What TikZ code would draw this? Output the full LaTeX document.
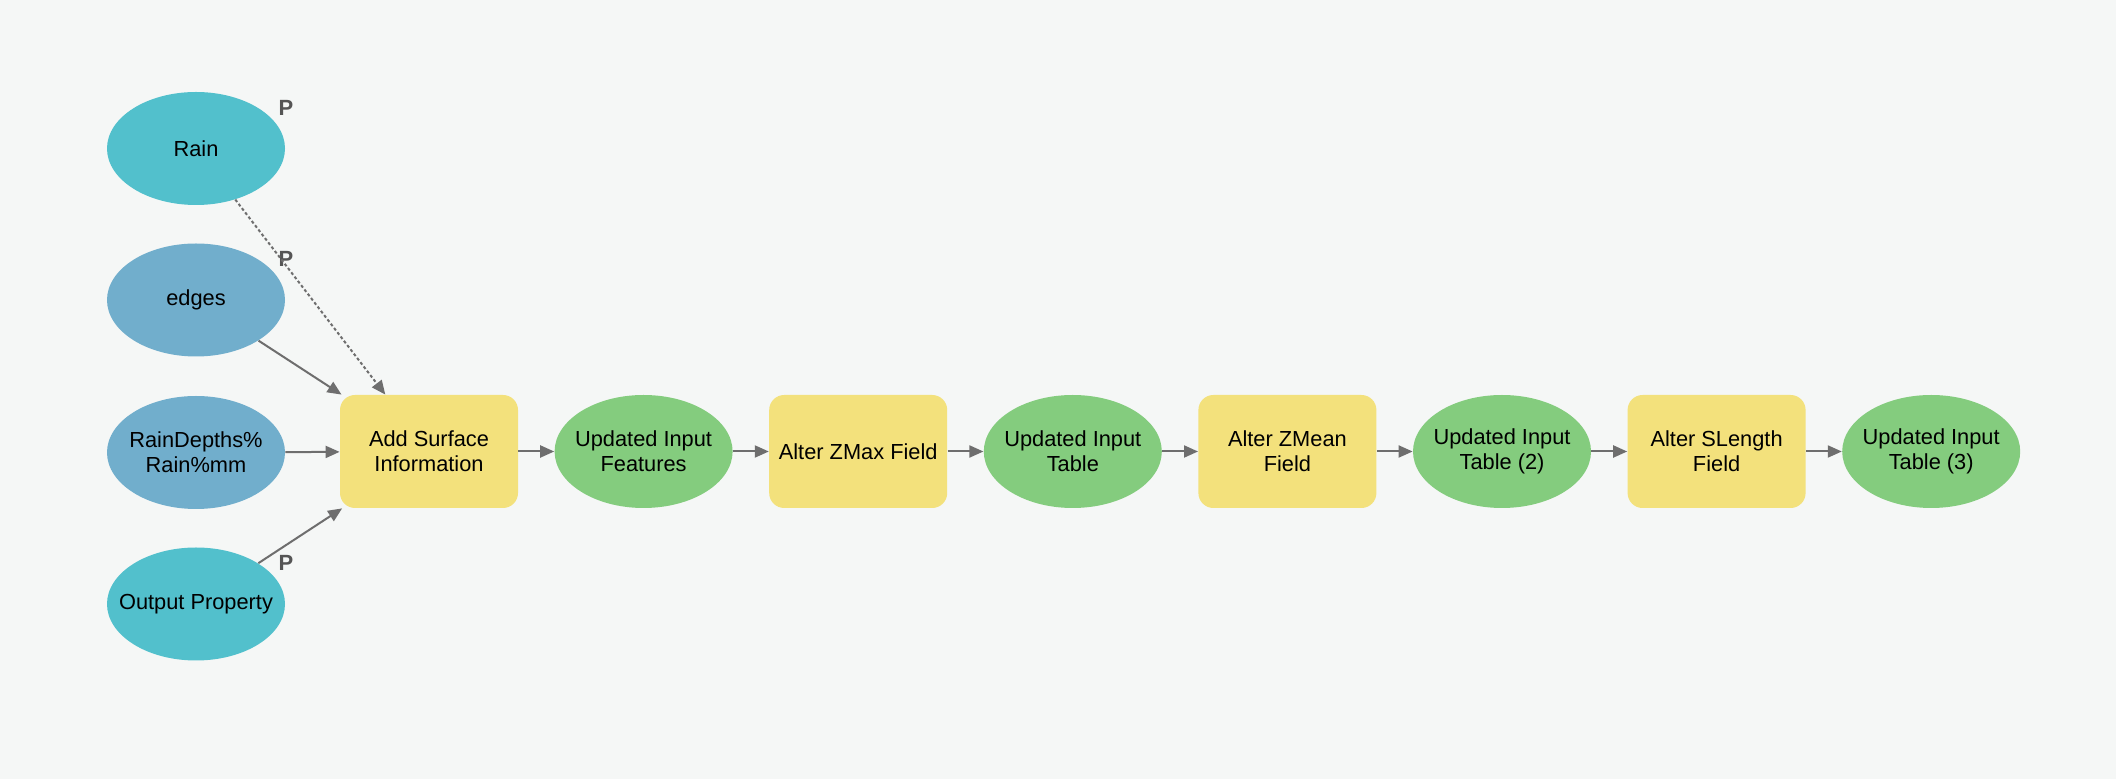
\documentclass[tikz,border=0pt]{standalone}
\usepackage{fontspec}
\setmainfont{Liberation Sans}
\usetikzlibrary{arrows.meta,shapes.geometric}

\definecolor{bgcol}{HTML}{F5F7F6}
\definecolor{paramcol}{HTML}{52C0CC}
\definecolor{datacol}{HTML}{71AECC}
\definecolor{outcol}{HTML}{84CC7E}
\definecolor{toolcol}{HTML}{F3E17C}
\definecolor{linkcol}{HTML}{6E6E6E}
\definecolor{pcol}{HTML}{555555}

\begin{document}
\begin{tikzpicture}[x=0.5pt,y=-0.5pt,
  every node/.style={font=\fontsize{10.9}{12.5}\selectfont, align=center, inner sep=0pt, text=black},
  var/.style={ellipse, inner xsep=-14pt, minimum width=89pt, minimum height=56.5pt},
  tool/.style={rectangle, rounded corners=7.5pt, fill=toolcol, minimum width=89pt, minimum height=56.5pt},
  plabel/.style={font=\fontsize{11}{13}\bfseries\selectfont, text=pcol, xshift=45pt, yshift=20.5pt},
  link/.style={draw=linkcol, line width=1pt, -{Triangle[length=7pt,width=6pt]}}]
  \fill[bgcol] (0,0) rectangle (2116,779);
  \useasboundingbox (0,0) rectangle (2116,779);

  % model inputs
  \node[var, fill=paramcol, label={[plabel]center:P}] (rain) at (196,148.5) {Rain};
  \node[var, fill=datacol, label={[plabel]center:P}] (edges) at (196,300) {edges};
  \node[var, fill=datacol] (depths) at (196,452.5) {RainDepths\%\\Rain\%mm};
  \node[var, fill=paramcol, label={[plabel]center:P}] (outprop) at (196,604) {Output Property};

  % processing chain
  \node[tool] (addsurf) at (429,451.5) {Add Surface\\Information};
  \node[var, fill=outcol] (feat) at (643.6,451.5) {Updated Input\\Features};
  \node[tool] (zmax) at (858.2,451.5) {Alter ZMax Field};
  \node[var, fill=outcol] (tab) at (1072.8,451.5) {Updated Input\\Table};
  \node[tool] (zmean) at (1287.4,451.5) {Alter ZMean\\Field};
  \node[var, fill=outcol] (tab2) at (1502,451.5) {Updated Input\\Table (2)\vphantom{p}};
  \node[tool] (slength) at (1716.6,451.5) {Alter SLength\\Field};
  \node[var, fill=outcol] (tab3) at (1931.2,451.5) {Updated Input\\Table (3)\vphantom{p}};

  \draw[link, dash pattern=on 1.5pt off 1.2pt] (rain) -- (addsurf);
  \draw[link] (edges) -- (addsurf);
  \draw[link] (depths) -- (addsurf);
  \draw[link] (outprop) -- (addsurf);
  \draw[link] (addsurf) -- (feat);
  \draw[link] (feat) -- (zmax);
  \draw[link] (zmax) -- (tab);
  \draw[link] (tab) -- (zmean);
  \draw[link] (zmean) -- (tab2);
  \draw[link] (tab2) -- (slength);
  \draw[link] (slength) -- (tab3);
\end{tikzpicture}
\end{document}
